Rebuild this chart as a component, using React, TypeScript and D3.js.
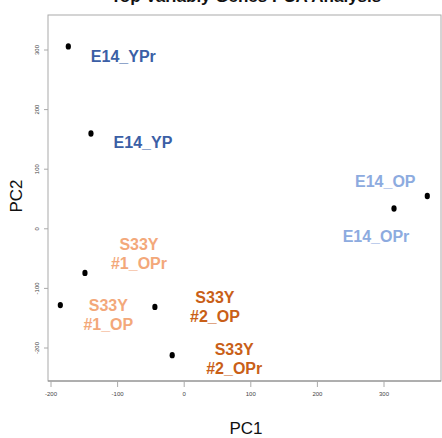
import React from "react";
import * as d3 from "d3";

// Sample names and their first two principal component scores
const samples = [
  "E14_YPr",
  "E14_YP",
  "E14_OP",
  "E14_OPr",
  "S33Y\n#1_OPr",
  "S33Y\n#1_OP",
  "S33Y\n#2_OP",
  "S33Y\n#2_OPr",
];
const pc1 = [-174, -140, 365, 315, -149, -186, -44, -18];
const pc2 = [306, 160, 55, 34, -74, -128, -131, -212];
const groups = ["yp", "yp", "op", "op", "s1", "s1", "s2", "s2"];

const xTicks = [-200, -100, 0, 100, 200, 300];
const yTicks = [-200, -100, 0, 100, 200, 300];

// label placement relative to each point, in pixels
const labelOffsets: [number, number][] = [
  [55, 10],
  [52, 9],
  [-42, -15],
  [-18, 28],
  [54, -19],
  [48, 10],
  [60, 0],
  [62, 4],
];

const groupColor: Record<string, string> = {
  yp: "#3b5fa6",
  op: "#8dabdf",
  s1: "#f3a87a",
  s2: "#c95f18",
};

const W = 442;
const H = 438;
const plot = { left: 48, right: 441, top: 15, bottom: 381 };

export default function App() {
  const x = d3.scaleLinear().domain([-200, 300]).range([51, 384]);
  const y = d3.scaleLinear().domain([-200, 300]).range([348, 50]);
  const font = "Liberation Sans, Arial, Helvetica, sans-serif";

  return (
    <svg
      width={W}
      height={H}
      style={{ position: "absolute", left: 0, top: 0, background: "#fff" }}
    >
      <text
        x={246}
        y={1.5}
        textAnchor="middle"
        fontFamily={font}
        fontWeight="bold"
        fontSize={17}
        fill="#111"
      >
        Top Variably Genes PCA Analysis
      </text>

      {/* plot frame */}
      <rect
        x={plot.left}
        y={plot.top}
        width={plot.right - plot.left}
        height={plot.bottom - plot.top}
        fill="none"
        stroke="#aaa"
        strokeWidth={1}
      />
      <line
        x1={plot.left}
        x2={plot.right}
        y1={plot.bottom}
        y2={plot.bottom}
        stroke="#888"
      />

      {/* x axis */}
      {xTicks.map((t) => (
        <g key={"x" + t}>
          <line
            x1={x(t)}
            x2={x(t)}
            y1={plot.bottom}
            y2={plot.bottom + 6}
            stroke="#aaa"
          />
          <text
            x={x(t)}
            y={plot.bottom + 15}
            textAnchor="middle"
            fontFamily={font}
            fontSize={6}
            fill="#444"
          >
            {t}
          </text>
        </g>
      ))}

      {/* y axis */}
      {yTicks.map((t) => (
        <g key={"y" + t}>
          <line
            x1={plot.left - 4}
            x2={plot.left}
            y1={y(t)}
            y2={y(t)}
            stroke="#aaa"
          />
          <text
            transform={`translate(${plot.left - 9},${y(t)}) rotate(-90)`}
            textAnchor="middle"
            fontFamily={font}
            fontSize={6}
            fill="#444"
          >
            {t}
          </text>
        </g>
      ))}

      <text
        x={246}
        y={434}
        textAnchor="middle"
        fontFamily={font}
        fontSize={17}
        fill="#111"
      >
        PC1
      </text>
      <text
        transform={`translate(22,196) rotate(-90)`}
        textAnchor="middle"
        fontFamily={font}
        fontSize={17}
        fill="#111"
      >
        PC2
      </text>

      {/* points */}
      {samples.map((s, i) => (
        <ellipse
          key={"p" + i}
          cx={x(pc1[i])}
          cy={y(pc2[i])}
          rx={2.6}
          ry={3.2}
          fill="#000"
        />
      ))}

      {/* labels */}
      {samples.map((s, i) => {
        const lines = s.split("\n");
        const cx = x(pc1[i]) + labelOffsets[i][0];
        const cy = y(pc2[i]) + labelOffsets[i][1];
        const lh = 19;
        const y0 = cy - ((lines.length - 1) * lh) / 2;
        return (
          <text
            key={"l" + i}
            textAnchor="middle"
            fontFamily={font}
            fontWeight="bold"
            fontSize={16}
            fill={groupColor[groups[i]]}
          >
            {lines.map((ln, j) => (
              <tspan key={j} x={cx} y={y0 + j * lh} dy="0.35em">
                {ln}
              </tspan>
            ))}
          </text>
        );
      })}
    </svg>
  );
}
